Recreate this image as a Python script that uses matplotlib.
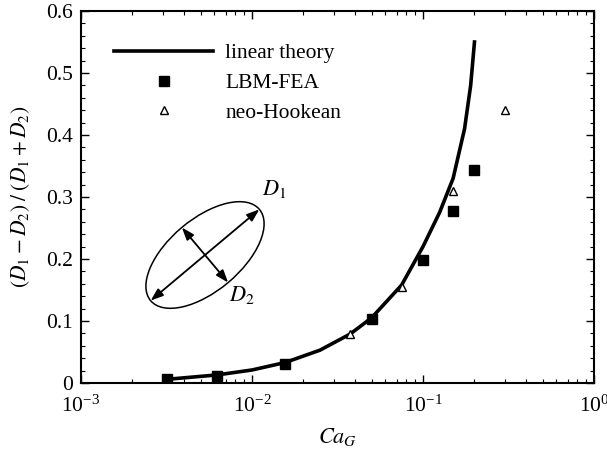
import numpy as np
import matplotlib.pyplot as plt
from matplotlib.patches import Ellipse
from matplotlib.ticker import FuncFormatter, MultipleLocator

plt.rcParams['font.family'] = ['Liberation Serif', 'DejaVu Serif']
plt.rcParams['mathtext.fontset'] = 'stix'
plt.rcParams['font.size'] = 15

# linear theory curve
theory_ca = [0.0032, 0.00625, 0.01, 0.0156, 0.025, 0.0375, 0.05, 0.075, 0.1, 0.125, 0.15, 0.175, 0.19, 0.2]
theory_d = [0.006, 0.013, 0.021, 0.033, 0.053, 0.079, 0.105, 0.158, 0.22, 0.275, 0.33, 0.41, 0.48, 0.55]

# LBM-FEA
lbm_ca = [0.0032, 0.00625, 0.0156, 0.05, 0.1, 0.15, 0.2]
lbm_d = [0.006, 0.011, 0.031, 0.104, 0.198, 0.277, 0.343]

# neo-Hookean
nh_ca = [0.0375, 0.075, 0.15, 0.3]
nh_d = [0.079, 0.155, 0.31, 0.44]

W, H = 607, 449
fig = plt.figure(figsize=(W / 100, H / 100), dpi=100)
ax = fig.add_axes([81 / W, 1 - 383 / H, (594 - 81) / W, (383 - 11) / H])

ax.plot(theory_ca, theory_d, color='black', lw=2.6, label='linear theory', zorder=2)
ax.plot(lbm_ca, lbm_d, 's', color='black', ms=7, label='LBM-FEA', zorder=3)
ax.plot(nh_ca, nh_d, '^', mfc='white', mec='black', mew=1.0, ms=6, label='neo-Hookean', zorder=3)

ax.set_xscale('log')
ax.set_xlim(1e-3, 1)
ax.set_ylim(0, 0.6)
ax.yaxis.set_major_locator(MultipleLocator(0.1))
ax.yaxis.set_minor_locator(MultipleLocator(0.02))
ax.yaxis.set_major_formatter(FuncFormatter(lambda v, p: '0' if abs(v) < 1e-9 else f'{v:.1f}'))
ax.tick_params(which='both', direction='in', top=True, right=True, labelsize=15.5)
ax.tick_params(which='major', length=6, width=1, pad=6)
ax.tick_params(which='minor', length=3, width=0.8)
ax.tick_params(axis='x', which='major', pad=9)
for s in ax.spines.values():
    s.set_linewidth(1.5)

ax.set_xlabel('$Ca_G$', fontsize=16, labelpad=7)
ax.set_ylabel('$(D_1 - D_2)\\;/\\;(D_1 + D_2)$', fontsize=15.5, labelpad=10)

leg = ax.legend(loc='upper left', frameon=False, fontsize=15.5, handlelength=4.6,
                labelspacing=0.45, bbox_to_anchor=(0.027, 0.965), handletextpad=0.55)

# inset sketch of the deformed capsule, drawn in pixel units
ov = fig.add_axes([0, 0, 1, 1], zorder=5)
ov.set_xlim(0, W)
ov.set_ylim(H, 0)
ov.axis('off')
ov.patch.set_alpha(0)

cx, cy = 205, 255
ang = np.deg2rad(40)
a, b = 71, 36
ov.add_patch(Ellipse((cx, cy), 2 * a, 2 * b, angle=-40, fill=False, lw=1.1, ec='black'))
ux, uy = np.cos(ang), -np.sin(ang)
vx, vy = np.sin(ang), np.cos(ang)
arr = dict(arrowstyle='<|-|>,head_length=0.5,head_width=0.18', color='black', lw=1.3,
           shrinkA=0, shrinkB=0)
ov.annotate('', xy=(cx + a * ux, cy + a * uy), xytext=(cx - a * ux, cy - a * uy), arrowprops=arr)
ov.annotate('', xy=(cx + b * vx, cy + b * vy), xytext=(cx - b * vx, cy - b * vy), arrowprops=arr)
ov.text(262, 200, '$D_1$', fontsize=16, ha='left', va='bottom')
ov.text(229, 306, '$D_2$', fontsize=16, ha='left', va='bottom')

fig.savefig('out.png', dpi=100)
